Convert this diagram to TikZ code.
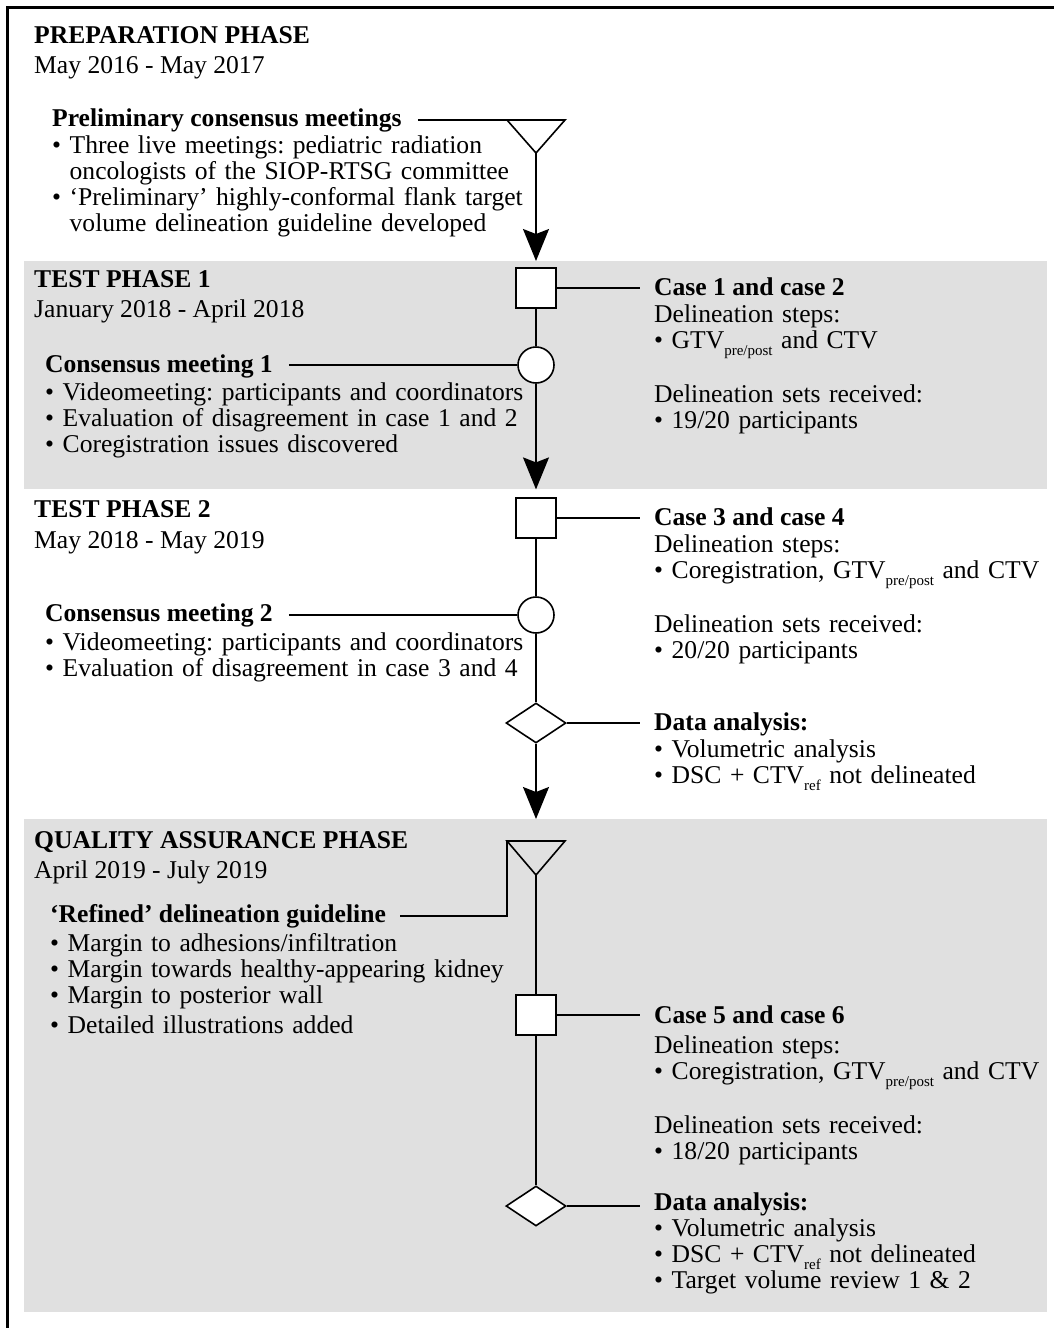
\documentclass[tikz,border=0pt]{standalone}
\usepackage{fontspec}
\setmainfont{Liberation Serif}
\usepackage{tikz}
\usetikzlibrary{arrows.meta,shapes.geometric}
\definecolor{panelgray}{RGB}{224,224,224}
\newcommand{\mainsize}{\fontsize{25.6}{26}\selectfont\frenchspacing}
\newcommand{\lowsub}[1]{\raisebox{-7pt}{\fontsize{15}{15}\selectfont #1}}
\tikzstyle{every node}=[anchor=west,inner sep=0pt,font=\mainsize]
\tikzstyle{head}=[anchor=base west,font=\mainsize\bfseries]
\tikzstyle{txt}=[anchor=base west]
\tikzstyle{body}=[anchor=base west,text width=620pt,align=left]
\tikzstyle{panel}=[fill=panelgray,anchor=north west,minimum width=1023pt]
\tikzstyle{box}=[draw,fill=white,anchor=center,line width=1.6pt,minimum size=40pt]
\tikzstyle{meeting}=[draw,circle,fill=white,anchor=center,line width=1.6pt,minimum size=36pt]
\tikzstyle{analysis}=[draw,diamond,fill=white,anchor=center,line width=1.6pt,minimum width=60pt,minimum height=40pt]
\tikzstyle{link}=[line width=1.6pt]
\tikzstyle{flow}=[line width=1.6pt,-{Stealth[length=32pt,width=26pt,inset=5pt]}]

\begin{document}
\begin{tikzpicture}[x=1pt,y=-1pt]
  \useasboundingbox (0,0) rectangle (1054,1328);
  \node[panel,minimum height=228pt] (test1) at (24,261) {};
  \node[panel,minimum height=493pt] (qa) at (24,819) {};
  \draw[line width=3pt] (1054,7) -- (7,7) -- (7,1328);

  % preparation phase
  \node[head] (prephead) at (34,43) {PREPARATION PHASE};
  \node[txt] (prepdate) at (34,73) {May 2016 - May 2017};
  \node[head] (prelim) at (52,126) {Preliminary consensus meetings};
  \node[body] (prelimtxt) at (52,153) {• Three live meetings: pediatric radiation\\
    \hphantom{•\ }oncologists of the SIOP-RTSG committee\\
    • ‘Preliminary’ highly-conformal flank target\\
    \hphantom{•\ }volume delineation guideline developed};
  \coordinate (tri1l) at (507,120);
  \coordinate (tri1r) at (565,120);
  \coordinate (tri1) at (536,153);
  \draw[link] (tri1l) -- (tri1r) -- (tri1) -- cycle;
  \draw[link,shorten <=16pt] (tri1l -| prelim.east) -- (tri1l);

  % test phase 1
  \node[head] (t1head) at (34,287) {TEST PHASE 1};
  \node[txt] (t1date) at (34,317) {January 2018 - April 2018};
  \node[box] (sq1) at (536,288) {};
  \node[meeting] (circ1) at (536,365) {};
  \node[head] (case12) at (654,295) {Case 1 and case 2};
  \node[body] (case12txt) at (654,322) {Delineation steps:\\
    • GTV\lowsub{pre/post} and CTV\\[26pt]
    Delineation sets received:\\
    • 19/20 participants};
  \node[head] (cm1) at (45,372) {Consensus meeting 1};
  \node[body] (cm1txt) at (45,400) {• Videomeeting: participants and coordinators\\
    • Evaluation of disagreement in case 1 and 2\\
    • Coregistration issues discovered};
  \draw[flow] (tri1) -- (tri1 |- test1.north);
  \draw[link] (sq1.south) -- (circ1.north);
  \draw[link,shorten >=14pt] (sq1.east) -- (sq1.east -| case12.west);
  \draw[link,shorten <=16pt] (cm1.east |- circ1.west) -- (circ1.west);
  \draw[flow] (circ1.south) -- (circ1 |- test1.south);

  % test phase 2
  \node[head] (t2head) at (34,517) {TEST PHASE 2};
  \node[txt] (t2date) at (34,548) {May 2018 - May 2019};
  \node[box] (sq2) at (536,518) {};
  \node[meeting] (circ2) at (536,615) {};
  \node[analysis] (dia1) at (536,723) {};
  \node[head] (case34) at (654,525) {Case 3 and case 4};
  \node[body] (case34txt) at (654,552) {Delineation steps:\\
    • Coregistration, GTV\lowsub{pre/post} and CTV\\[26pt]
    Delineation sets received:\\
    • 20/20 participants};
  \node[head] (cm2) at (45,621) {Consensus meeting 2};
  \node[body] (cm2txt) at (45,650) {• Videomeeting: participants and coordinators\\
    • Evaluation of disagreement in case 3 and 4};
  \node[head] (da1) at (654,730) {Data analysis:};
  \node[body] (da1txt) at (654,757) {• Volumetric analysis\\
    • DSC + CTV\lowsub{ref} not delineated};
  \draw[link] (sq2.south) -- (circ2.north);
  \draw[link] (circ2.south) -- (dia1.north);
  \draw[link,shorten >=14pt] (sq2.east) -- (sq2.east -| case34.west);
  \draw[link,shorten <=16pt] (cm2.east |- circ2.west) -- (circ2.west);
  \draw[link,shorten >=14pt] (dia1.east) -- (dia1.east -| da1.west);
  \draw[flow] (dia1.south) -- (dia1 |- qa.north);

  % quality assurance phase
  \node[head] (qahead) at (34,848) {QUALITY ASSURANCE PHASE};
  \node[txt] (qadate) at (34,878) {April 2019 - July 2019};
  \coordinate (tri2l) at (507,841);
  \coordinate (tri2r) at (565,841);
  \coordinate (tri2) at (536,875);
  \draw[link] (tri2l) -- (tri2r) -- (tri2) -- cycle;
  \node[head] (refined) at (50,922) {‘Refined’ delineation guideline};
  \node[body] (refinedtxt) at (50,951) {• Margin to adhesions/infiltration\\
    • Margin towards healthy-appearing kidney\\
    • Margin to posterior wall\\[4pt]
    • Detailed illustrations added};
  \node[box] (sq3) at (536,1015) {};
  \node[analysis] (dia2) at (536,1206) {};
  \node[head] (case56) at (654,1023) {Case 5 and case 6};
  \node[body] (case56txt) at (654,1053) {Delineation steps:\\
    • Coregistration, GTV\lowsub{pre/post} and CTV\\[26pt]
    Delineation sets received:\\
    • 18/20 participants};
  \node[head] (da2) at (654,1210) {Data analysis:};
  \node[body] (da2txt) at (654,1236) {• Volumetric analysis\\
    • DSC + CTV\lowsub{ref} not delineated\\
    • Target volume review 1 \& 2};
  \draw[link,shorten <=14pt] (refined.east) -| (tri2l);
  \draw[link] (tri2) -- (sq3.north);
  \draw[link] (sq3.south) -- (dia2.north);
  \draw[link,shorten >=14pt] (sq3.east) -- (sq3.east -| case56.west);
  \draw[link,shorten >=14pt] (dia2.east) -- (dia2.east -| da2.west);
\end{tikzpicture}
\end{document}
